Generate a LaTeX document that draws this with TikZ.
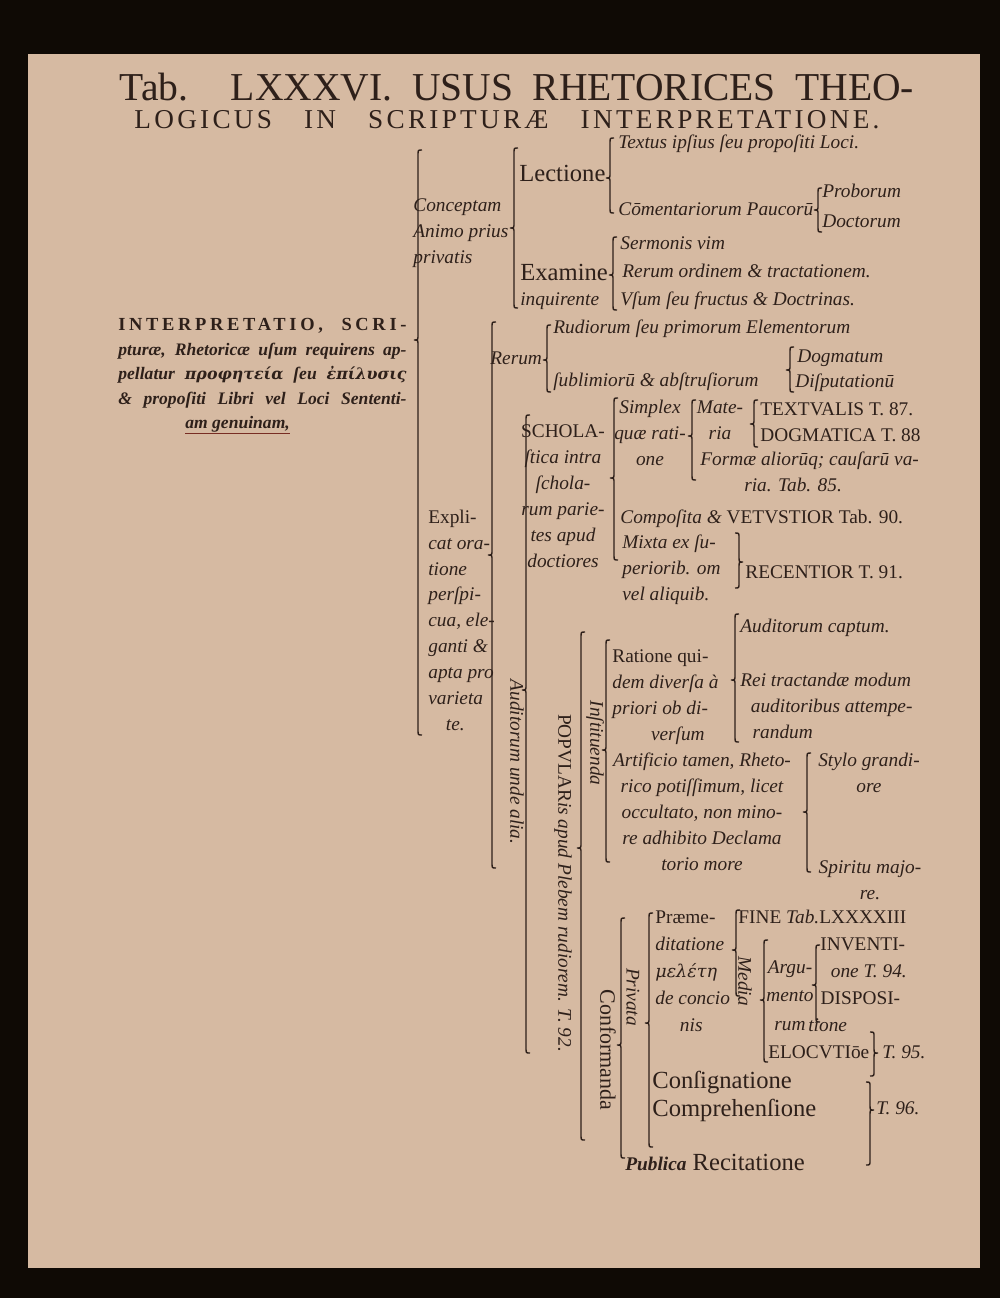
\documentclass[tikz,border=0pt]{standalone}
\usepackage{fontspec}
\setmainfont{Liberation Serif}
\newfontfamily\grk{DejaVu Serif}
\newfontfamily\spcaps[LetterSpace=12]{Liberation Serif}
\newfontfamily\spcapsb[LetterSpace=20]{Liberation Serif}
\usetikzlibrary{positioning}

\definecolor{ink}{RGB}{46,32,26}
\definecolor{paper}{RGB}{214,186,162}
\definecolor{redink}{RGB}{120,45,35}

\newcommand{\itx}{\fontsize{11}{14.7}\selectfont\itshape}
\newcommand{\rmx}{\fontsize{14}{16}\selectfont}
\newcommand{\capx}{\fontsize{11}{15.3}\selectfont}
\newcommand{\jline}[1]{\makebox[164pt][s]{#1}}

% brace with its point to the left: x, top, tip, bottom (in pixels)
\newcommand{\lbrc}[4]{\draw[brc] ({#1+4},#2) .. controls (#1,#2) .. (#1,{#2+5}) -- (#1,{#3-5})
  .. controls (#1,#3) .. ({#1-4},#3) .. controls (#1,#3) .. (#1,{#3+5}) -- (#1,{#4-5})
  .. controls (#1,#4) .. ({#1+4},#4);}
% brace with its point to the right
\newcommand{\rbrc}[4]{\draw[brc] ({#1-4},#2) .. controls (#1,#2) .. (#1,{#2+5}) -- (#1,{#3-5})
  .. controls (#1,#3) .. ({#1+4},#3) .. controls (#1,#3) .. (#1,{#3+5}) -- (#1,{#4-5})
  .. controls (#1,#4) .. ({#1-4},#4);}

\tikzset{
  brc/.style={draw=ink, line width=0.8pt},
  txt/.style={anchor=base west, inner sep=0pt, text=ink, font=\itx, align=left},
  ctxt/.style={anchor=base, inner sep=0pt, text=ink, font=\itx, align=center},
  rtxt/.style={anchor=base west, inner sep=0pt, text=ink, font=\rmx},
  vtxt/.style={inner sep=0pt, text=ink, font=\itx, rotate=-90},
}

\begin{document}
\begin{tikzpicture}[x=0.2mm, y=-0.2mm]
  \useasboundingbox (0,0) rectangle (1000,1298);
  \fill[black!92!brown] (0,0) rectangle (1000,1298);
  \fill[paper] (28,54) rectangle (980,1268);
  % title
  \node[anchor=base, inner sep=0pt, text=ink, font=\fontsize{22.5}{26}\selectfont] (title1) at (517,101)
    {\makebox[452pt][s]{Tab. LXXXVI. USUS RHETORICES THEO-}};
  \node[anchor=base, inner sep=0pt, text=ink, font=\spcaps\fontsize{15.5}{20}\selectfont] (title2) at (507,129)
    {\makebox[424pt][s]{LOGICUS IN SCRIPTURÆ INTERPRETATIONE.}};
  % the whole (base anchor = last line)
  \node[txt, font=\itx\bfseries\fontsize{10}{13.9}\selectfont] (interp) at (118,404)
    {{\spcapsb\upshape\fontsize{10.5}{13.9}\selectfont\jline{INTERPRETATIO, SCRI-}}\\
     \jline{pturæ, Rhetoricæ uſum requirens ap-}\\
     \jline{pellatur {\grk\fontsize{9}{13.9}\selectfont προφητεία} ſeu {\grk\fontsize{9}{13.9}\selectfont ἐπίλυσις}}\\
     \jline{\& propoſiti Libri vel Loci Sententi-}};
  \node[txt, font=\itx\bfseries\fontsize{10}{13.9}\selectfont] (genuin) at (185,428) {am genuinam,};
  \draw[redink, line width=0.7pt] ([yshift=-3pt]genuin.base west) -- ([yshift=-3pt]genuin.base east);
  % Conceptam
  \node[txt] (concept) at (413,263) {Conceptam\\Animo prius\\privatis};
  \node[rtxt] (lectio) at (519,182) {Lectione};
  \node[txt] (textus) at (618,149) {Textus ipſius ſeu propoſiti Loci.};
  \node[txt] (comment) at (618,216) {Cōmentariorum Paucorū};
  \node[txt] (probor) at (822,197) {Proborum};
  \node[txt] (doctor) at (822,228) {Doctorum};
  \node[rtxt] (examen) at (520,280) {Examine};
  \node[txt] (inquir) at (520,305) {inquirente};
  \node[txt] (sermo) at (620,249) {Sermonis vim};
  \node[txt] (rerord) at (622,277) {Rerum ordinem \& tractationem.};
  \node[txt] (usum) at (620,305) {Vſum ſeu fructus \& Doctrinas.};
  % Explicat
  \node[txt] (explic) at (428,730)
    {{\upshape Expli-}\\cat ora-\\tione\\perſpi-\\cua, ele-\\ganti \&\\apta pro\\varieta\\\hspace*{10pt}te.};
  \node[txt] (rerum) at (490,364) {Rerum};
  \node[txt] (rudior) at (553,333) {Rudiorum ſeu primorum Elementorum};
  \node[txt] (sublim) at (553,386) {ſublimiorū \& abſtruſiorum};
  \node[txt] (dogma) at (797,362) {Dogmatum};
  \node[txt] (disput) at (795,387) {Diſputationū};
  \node[vtxt] (audit) at (517,762) {Auditorum unde alia.};
  % scholastica
  \node[ctxt] (schola) at (563,567)
    {{\upshape SCHOLA-}\\ſtica intra\\ſchola-\\rum parie-\\tes apud\\doctiores};
  \node[ctxt] (simplex) at (650,465) {Simplex\\quæ rati-\\one};
  \node[ctxt] (materia) at (720,439) {Mate-\\ria};
  \node[txt] (forma) at (700,491) {Formæ aliorūq; cauſarū va-\\\hspace*{25pt}ria. Tab. 85.};
  \node[txt, font=\capx] (textual) at (760,415) {TEXTVALIS T. 87.};
  \node[txt, font=\capx] (dogmat) at (760,441) {DOGMATICA T. 88};
  \node[txt] (composita) at (620,523) {Compoſita \& {\upshape VETVSTIOR Tab. 90.}};
  \node[txt] (mixta) at (622,600) {Mixta ex ſu-\\periorib. om\\vel aliquib.};
  \node[txt, font=\capx] (recent) at (745,578) {RECENTIOR T. 91.};
  % popularis
  \node[vtxt] (popular) at (563,883) {{\upshape POPVLAR}is apud Plebem rudiorem. T. 92.};
  \node[vtxt] (instit) at (595,743) {Inſtituenda};
  \node[txt] (ratio) at (612,740) {{\upshape Ratione qui-}\\dem diverſa à\\priori ob di-\\\hspace*{22pt}verſum};
  \node[txt] (captum) at (740,632) {Auditorum captum.};
  \node[txt] (reitract) at (740,738) {Rei tractandæ modum\\\hspace*{6pt}auditoribus attempe-\\\hspace*{7pt}randum};
  \node[ctxt] (artif) at (702,870)
    {Artificio tamen, Rheto-\\rico potiſſimum, licet\\occultato, non mino-\\re adhibito Declama\\torio more};
  \node[ctxt] (stylo) at (869,792) {Stylo grandi-\\ore};
  \node[ctxt] (spirit) at (870,899) {Spiritu majo-\\re.};
  % conformanda
  \node[vtxt, font=\fontsize{12.5}{15}\selectfont] (conform) at (608,1050) {Conformanda};
  \node[vtxt] (privata) at (633,997) {Privata};
  \node[txt, font=\itx\fontsize{11}{15.3}\selectfont] (praemed) at (655,1031)
    {{\upshape Præme-}\\ditatione\\{\grk\fontsize{10}{15.3}\selectfont μελέτη}\\de concio\\\hspace*{14pt}nis};
  \node[txt, font=\capx] (fine) at (738,923) {FINE {\itshape Tab.}LXXXXIII};
  \node[vtxt] (media) at (745,981) {Media};
  \node[ctxt, font=\itx\fontsize{11}{16}\selectfont] (argum) at (790,1030) {Argu-\\mento\\rum};
  \node[txt, font=\capx] (invent) at (820,977) {INVENTI-\\\hspace*{6pt}{\itshape one T. 94.}};
  \node[txt, font=\capx] (dispos) at (808,1031) {\hspace*{7pt}DISPOSI-\\{\itshape tione}};
  \node[txt, font=\capx] (elocut) at (768,1058) {ELOCVTIōe};
  \node[txt] (t95) at (882,1058) {T. 95.};
  \node[rtxt] (consign) at (652,1088) {Conſignatione};
  \node[rtxt] (compreh) at (652,1116) {Comprehenſione};
  \node[txt] (t96) at (876,1114) {T. 96.};
  \node[rtxt] (publica) at (625,1170) {{\itshape\bfseries\fontsize{11}{13}\selectfont Publica} Recitatione};
  % braces
  \lbrc{418}{150}{340}{735}
  \lbrc{514}{148}{228}{308}
  \lbrc{610}{138}{178}{213}
  \lbrc{818}{188}{210}{232}
  \lbrc{613}{237}{275}{310}
  \lbrc{492}{322}{555}{868}
  \lbrc{547}{325}{360}{392}
  \lbrc{790}{347}{370}{392}
  \lbrc{526}{415}{690}{1053}
  \lbrc{614}{398}{478}{560}
  \lbrc{692}{400}{436}{480}
  \lbrc{754}{400}{424}{447}
  \rbrc{739}{533}{562}{588}
  \lbrc{581}{632}{848}{1140}
  \lbrc{606}{640}{750}{862}
  \lbrc{735}{614}{680}{742}
  \lbrc{807}{753}{812}{872}
  \lbrc{621}{918}{1045}{1158}
  \lbrc{649}{913}{1023}{1147}
  \lbrc{736}{910}{950}{996}
  \lbrc{764}{940}{1000}{1062}
  \lbrc{816}{945}{985}{1022}
  \rbrc{874}{1032}{1053}{1076}
  \rbrc{870}{1082}{1110}{1165}
\end{tikzpicture}
\end{document}
